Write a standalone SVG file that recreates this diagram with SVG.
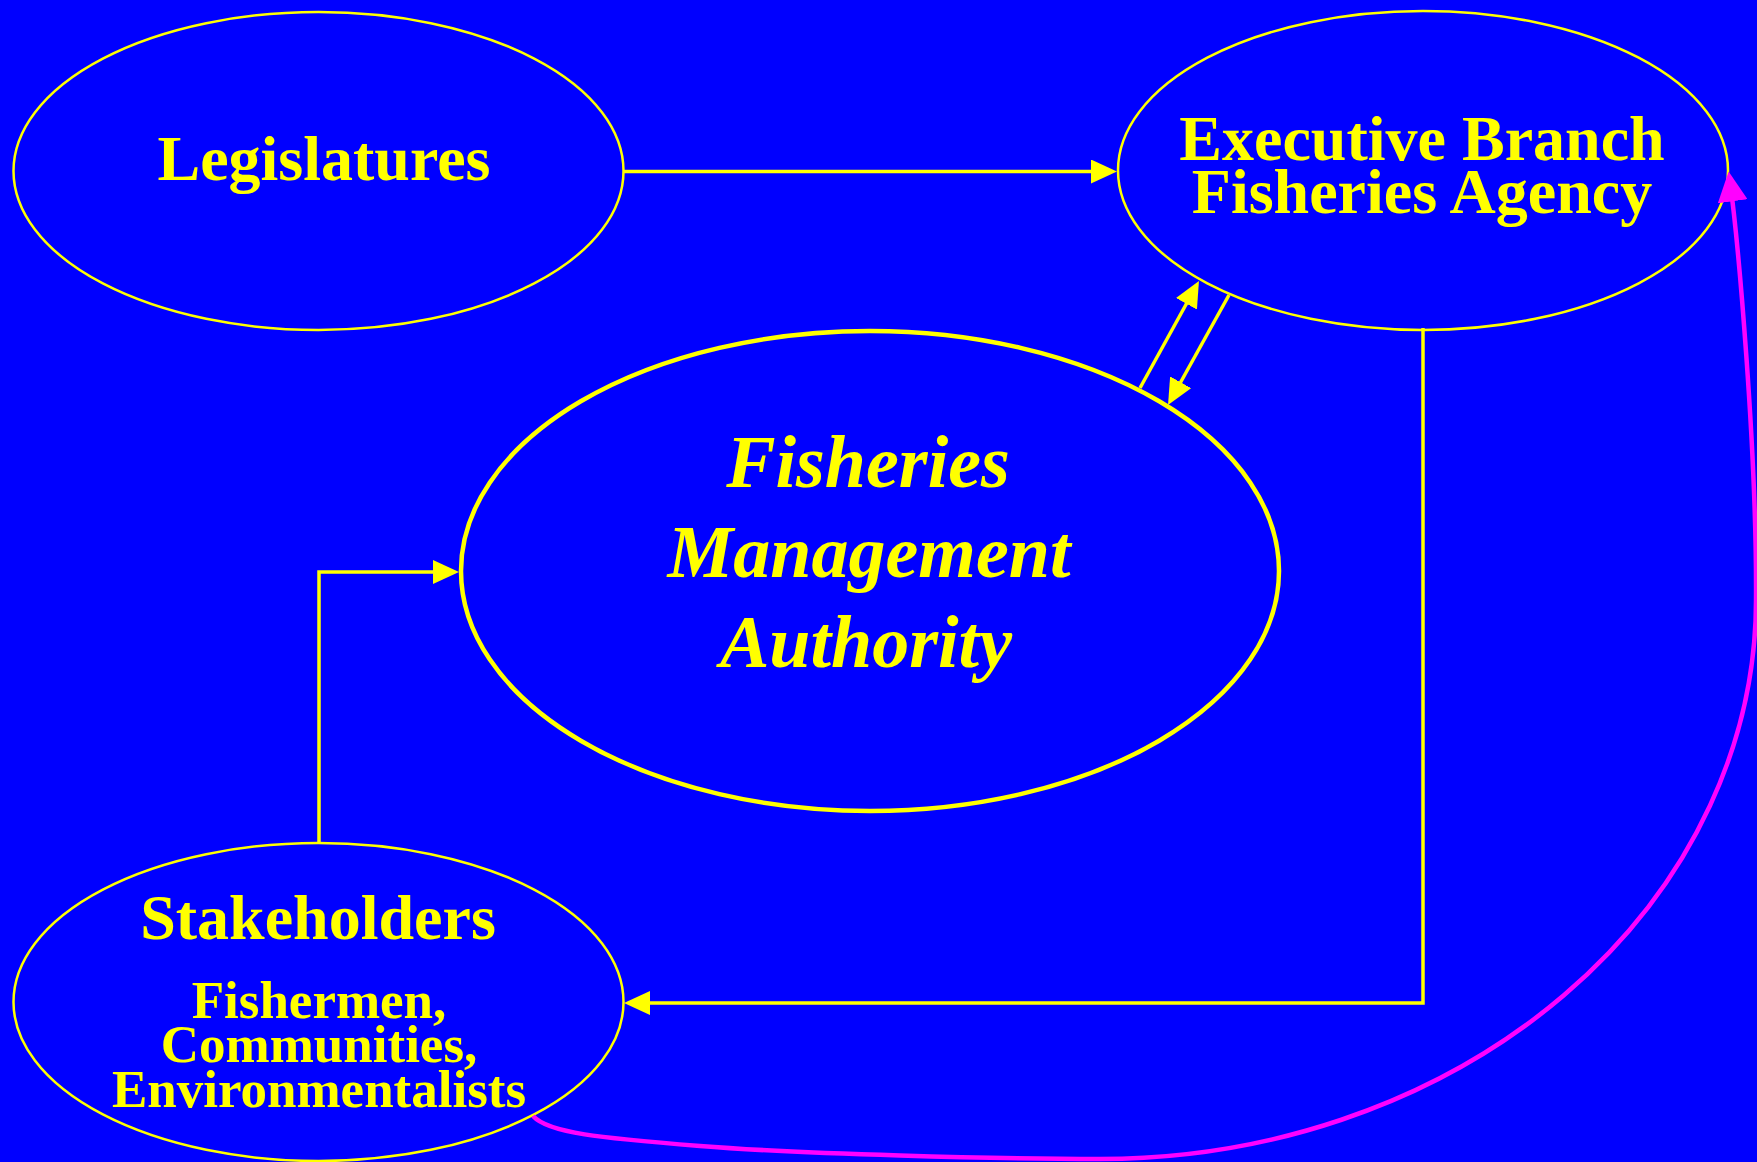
<svg xmlns="http://www.w3.org/2000/svg" width="1757" height="1162" viewBox="0 0 1757 1162">
<defs>
<style>
.bg{fill:#0000FF}
.node{fill:#0000FF;stroke:#FFFF00;stroke-width:2.5}
.main{fill:#0000FF;stroke:#FFFF00;stroke-width:4.5}
.lbl{font-family:"Liberation Serif","Times New Roman",serif;font-weight:bold;fill:#FFFF00;text-anchor:middle}
.it{font-style:italic}
.conn{fill:none;stroke:#FFFF00;stroke-width:3.5}
.mag{fill:none;stroke:#FF00FF;stroke-width:4.5}
</style>
<marker id="ay" viewBox="0 0 26 24" refX="18" refY="12" markerWidth="26" markerHeight="24" markerUnits="userSpaceOnUse" orient="auto">
<path d="M0,0 L26,12 L0,24 Z" fill="#FFFF00"/>
</marker>
<marker id="am" viewBox="0 0 30 30" refX="22" refY="15" markerWidth="30" markerHeight="30" markerUnits="userSpaceOnUse" orient="auto">
<path d="M0,0 L30,15 L0,30 Z" fill="#FF00FF"/>
</marker>
</defs>
<rect class="bg" x="0" y="0" width="1757" height="1162"/>
<g id="legislatures">
<ellipse class="node" cx="318.5" cy="171" rx="305" ry="159"/>
<text class="lbl" x="324" y="180" font-size="64">Legislatures</text>
</g>
<g id="executive">
<ellipse class="node" cx="1423" cy="170.5" rx="305" ry="159.5"/>
<text class="lbl" x="1422" y="160" font-size="64">Executive Branch</text>
<text class="lbl" x="1422" y="213" font-size="64">Fisheries Agency</text>
</g>
<g id="fma">
<ellipse class="main" cx="870" cy="571" rx="409" ry="240"/>
<text class="lbl it" x="868" y="487" font-size="74">Fisheries</text>
<text class="lbl it" x="869" y="577" font-size="74">Management</text>
<text class="lbl it" x="866" y="667" font-size="74">Authority</text>
</g>
<g id="stakeholders">
<ellipse class="node" cx="318.5" cy="1002" rx="305" ry="159"/>
<text class="lbl" x="318" y="939" font-size="64">Stakeholders</text>
<text class="lbl" x="319" y="1018" font-size="53">Fishermen,</text>
<text class="lbl" x="319" y="1062" font-size="53">Communities,</text>
<text class="lbl" x="319" y="1107" font-size="53">Environmentalists</text>
</g>
<g id="connectors">
<path class="conn" d="M624,171.5 H1109" marker-end="url(#ay)"/>
<path class="conn" d="M1423,328 V1003 H632" marker-end="url(#ay)"/>
<path class="conn" d="M319,843 V572 H451" marker-end="url(#ay)"/>
<path class="conn" d="M1140,388 L1195.1,288" marker-end="url(#ay)"/>
<path class="conn" d="M1229,295 L1171.9,398" marker-end="url(#ay)"/>
<path class="mag" d="M533,1116 C548,1133 600,1138 700,1146 S1000,1159 1100,1159 A656,559 0 0 0 1756,600 C1757,450 1738,240 1729.7,179.5" marker-end="url(#am)"/>
</g>
</svg>
